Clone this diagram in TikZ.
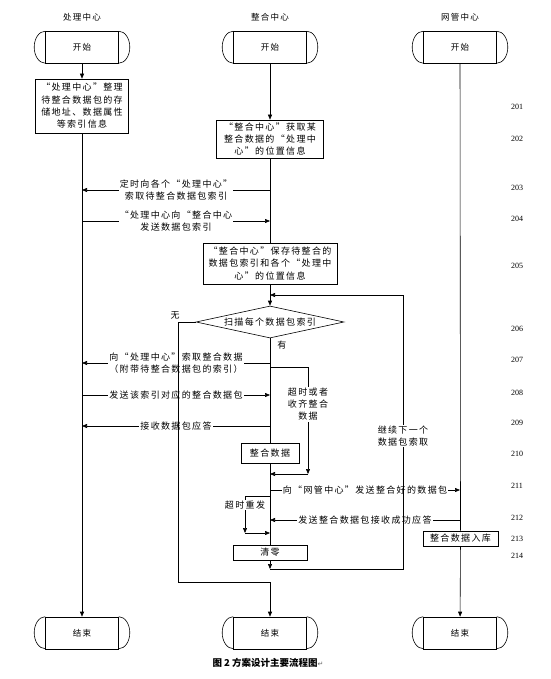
\documentclass[tikz,border=0pt]{standalone}
\usepackage{fontspec}
\setmainfont{Liberation Serif}
\newfontfamily\cjk{Noto Sans CJK SC}[LetterSpace=15]
\newfontfamily\capfont{Noto Sans CJK SC}
\newfontfamily\symfont{DejaVu Sans}
\usetikzlibrary{arrows.meta}
\usetikzlibrary{shapes.geometric}

\tikzset{
  head/.style={font=\cjk\fontsize{8.5}{10}\selectfont},
  term/.style={draw, minimum width=73pt, minimum height=32pt, inner sep=0pt,
    font=\cjk\fontsize{8.5}{10}\selectfont},
  box/.style={draw, align=center, inner sep=1pt,
    font=\cjk\fontsize{9}{12.3}\selectfont},
  lbl/.style={fill=white, align=center, inner sep=1pt,
    font=\cjk\fontsize{9}{12}\selectfont},
  num/.style={font=\fontsize{8}{9}\selectfont},
}

% start / end terminal with rounded sides
\newcommand\capsule[3]{%
  \node[term] (#1) at (#2) {#3};
  \draw (#1.north west) arc[start angle=90, end angle=270, x radius=11pt, y radius=16pt];
  \draw (#1.north east) arc[start angle=90, end angle=-90, x radius=11pt, y radius=16pt];
}

\begin{document}
\begin{tikzpicture}[x=1pt, y=1pt, line width=0.6pt,
    >={Triangle[length=5pt, width=4pt]}]
  \useasboundingbox (0,0) rectangle (550,-679);

  % lanes
  \node[head] (h1) at (82,-17) {处理中心};
  \node[head] (h2) at (270,-17) {整合中心};
  \node[head] (h3) at (460,-17) {网管中心};

  \capsule{s1}{82,-47.5}{开始}
  \capsule{s2}{270,-47.5}{开始}
  \capsule{s3}{460,-47.5}{开始}
  \capsule{e1}{82,-633}{结束}
  \capsule{e2}{270,-633}{结束}
  \capsule{e3}{460,-633}{结束}

  % boxes
  \node[box, minimum width=93pt, minimum height=54pt] (b201) at (82,-106)
    {“处理中心”整理\\待整合数据包的存\\储地址、数据属性\\等索引信息};
  \node[box, minimum width=107pt, minimum height=38pt] (b202) at (270,-139)
    {“整合中心”获取某\\整合数据的“处理中\\心”的位置信息};
  \node[box, minimum width=134pt, minimum height=41pt] (b205) at (270,-263.5)
    {“整合中心”保存待整合的\\数据包索引和各个“处理中\\心”的位置信息};
  \node[box, diamond, shape aspect=4.6, inner sep=0pt,
    minimum width=148pt, minimum height=32pt] (d206) at (270,-322) {扫描每个数据包索引};
  \node[box, minimum width=58pt, minimum height=20pt] (b210) at (270,-453) {整合数据};
  \node[box, minimum width=75pt, minimum height=15pt] (b213) at (460.5,-538.5) {整合数据入库};
  \node[box, minimum width=74pt, minimum height=15pt] (b214) at (270,-552.5) {清零};

  % step numbers
  \foreach \n/\y in {201/107, 202/139, 203/188, 204/219, 205/266, 206/329, 207/360,
      208/393, 209/423, 210/454, 211/486, 212/518, 213/539, 214/556}
    \node[num] (n\n) at (517,-\y) {\n};

  \foreach \n/\y in {203/190, 204/221, 207/363, 208/395, 209/426, 211/490, 212/520}
    \coordinate (y\n) at (0,-\y);
  \coordinate (wait1) at (308,-367);
  \coordinate (wait2) at (308,-474);
  \coordinate (resend1) at (245,-496);
  \coordinate (resend2) at (245,-533);
  \coordinate (back1) at (403,-569);
  \coordinate (back2) at (403,-295);
  \coordinate (no1) at (178,-322);
  \coordinate (no2) at (178,-582);

  % lifelines
  \draw[->] (s1) -- (b201);
  \draw[->] (b201) -- (e1);
  \draw[->] (s2) -- (b202);
  \draw (b202) -- (b205);
  \draw[->] (b205) -- (d206);
  \draw (d206) -- (b210);
  \draw (b210) -- (b214);
  \draw[->] (b214) -- (s2 |- back1);
  \draw (s3) -- (b213);
  \draw[->] (b213) -- (e3);
  \node[lbl, anchor=north west, fill=none] (yes) at ([xshift=6pt, yshift=-1pt]d206.south) {有};

  % messages
  \draw[->] (s2 |- y203) -- node[lbl] {定时向各个“处理中心”\\索取待整合数据包索引} (s1 |- y203);
  \draw[->] (s1 |- y204) -- node[lbl] {“处理中心向“整合中心\\发送数据包索引} (s2 |- y204);
  \draw[->] (s2 |- y207) -- node[lbl] {向“处理中心”索取整合数据\\（附带待整合数据包的索引）} (s1 |- y207);
  \draw[->] (s1 |- y208) -- node[lbl] {发送该索引对应的整合数据包} (s2 |- y208);
  \draw[->] (s2 |- y209) -- node[lbl] {接收数据包应答} (s1 |- y209);
  \draw[->] (s2 |- y211) -- node[lbl] {向“网管中心”发送整合好的数据包} (s3 |- y211);
  \draw[->] (s3 |- y212) -- node[lbl] {发送整合数据包接收成功应答} (s2 |- y212);

  % waiting and resending
  \draw[->] (s2 |- wait1) -- (wait1) -- node[lbl, pos=0.35] {超时或者\\收齐整合\\数据} (wait2);
  \draw[->] (wait2) -- (s2 |- wait2);
  \draw (s2 |- resend1) -- (resend1);
  \draw[->] (resend1) -- node[lbl, pos=0.25] {超时重发} (resend2);
  \draw[->] (resend2) -- (s2 |- resend2);

  % loop back and exit
  \draw[->] (s2 |- back1) -- (back1) -- node[lbl, pos=0.485] {继续下一个\\数据包索取} (back2) -- (s2 |- back2);
  \draw[->] (d206.west) -- (no1) node[lbl, fill=none, above left, inner sep=0pt, yshift=2pt, xshift=2pt] (no) {无}
    -- (no2) -- (s2 |- no2) -- (e2);

  \node[font=\capfont\bfseries\fontsize{9.5}{11}\selectfont] (cap) at (268,-663)
    {图 2 方案设计主要流程图{\symfont\mdseries\fontsize{7}{8}\selectfont\color{black!60}↵}};
\end{tikzpicture}
\end{document}
